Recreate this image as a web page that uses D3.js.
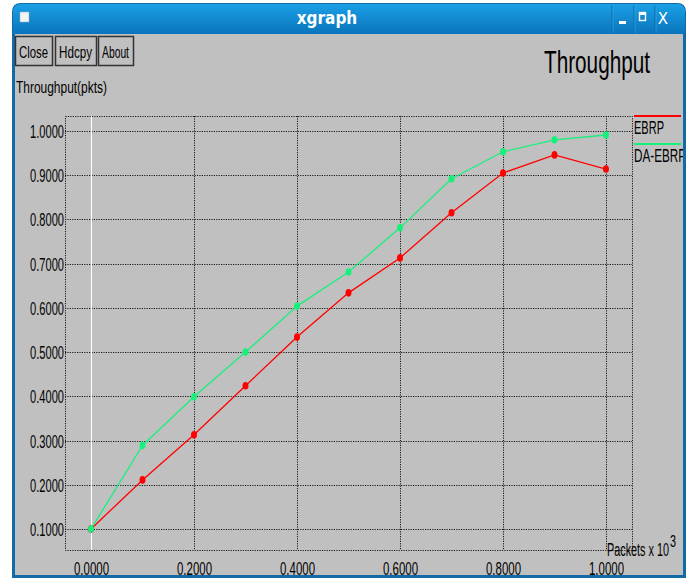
<!DOCTYPE html>
<html>
<head>
<meta charset="utf-8">
<script src="https://cdn.jsdelivr.net/npm/d3@7"></script>
<style>
  html, body { margin: 0; padding: 0; background: #ffffff; }
  svg { display: block; }
  text { font-family: "Liberation Sans", Arial, sans-serif; }
</style>
</head>
<body>
<svg id="chart" width="691" height="579"></svg>
<script>
// ---- data ----
const xValues = [0.0, 0.1, 0.2, 0.3, 0.4, 0.5, 0.6, 0.7, 0.8, 0.9, 1.0];
const ebrp    = [0.100, 0.211, 0.313, 0.424, 0.534, 0.634, 0.713, 0.815, 0.905, 0.946, 0.914];
const daEbrp  = [0.100, 0.289, 0.399, 0.500, 0.604, 0.681, 0.781, 0.892, 0.953, 0.980, 0.991];
const seriesNames = ["EBRP", "DA-EBRP"];
const xTicks = [0.0, 0.2, 0.4, 0.6, 0.8, 1.0];
const yTicks = [0.1, 0.2, 0.3, 0.4, 0.5, 0.6, 0.7, 0.8, 0.9, 1.0];

const svg = d3.select("#chart");
const colors = ["#ff0000", "#18f07c"];

// ---- window chrome ----
const defs = svg.append("defs");
const grad = defs.append("linearGradient").attr("id", "tb").attr("x1", 0).attr("y1", 0).attr("x2", 0).attr("y2", 1);
grad.append("stop").attr("offset", "0%").attr("stop-color", "#1aa0e6");
grad.append("stop").attr("offset", "100%").attr("stop-color", "#0a74bc");

svg.append("path")
  .attr("d", "M12,12 Q12,3 21,3 L677,3 Q686,3 686,12 L686,578 L12,578 Z")
  .attr("fill", "#146aa6");
svg.append("path")
  .attr("d", "M13,12 Q13,4 21,4 L677,4 Q685,4 685,12 L685,34 L13,34 Z")
  .attr("fill", "url(#tb)");
svg.append("rect").attr("x", 15).attr("y", 34).attr("width", 668).attr("height", 541).attr("fill", "#c0c0c0");

// title bar contents
svg.append("rect").attr("x", 20).attr("y", 12).attr("width", 9).attr("height", 10)
  .attr("fill", "#f4f4f4").attr("stroke", "#9ab").attr("stroke-width", 0.5);
svg.append("text").attr("x", 327).attr("y", 24).attr("text-anchor", "middle")
  .attr("fill", "#ffffff").attr("font-weight", "bold").attr("font-size", 17)
  .style("font-family", "'DejaVu Sans Condensed', 'Liberation Sans', sans-serif")
  .text("xgraph");
[612, 634, 655].forEach(bx => {
  svg.append("line").attr("x1", bx).attr("x2", bx).attr("y1", 5).attr("y2", 33)
    .attr("stroke", "#0b6aa8").attr("stroke-width", 1);
  svg.append("line").attr("x1", bx + 1).attr("x2", bx + 1).attr("y1", 5).attr("y2", 33)
    .attr("stroke", "#38aee8").attr("stroke-width", 0.6);
});
svg.append("rect").attr("x", 619).attr("y", 21).attr("width", 7).attr("height", 3).attr("fill", "#fff");
svg.append("rect").attr("x", 639.5).attr("y", 12.5).attr("width", 6).attr("height", 8)
  .attr("fill", "none").attr("stroke", "#fff").attr("stroke-width", 1.4);
svg.append("rect").attr("x", 639.5).attr("y", 12.5).attr("width", 6).attr("height", 2.5).attr("fill", "#fff");
svg.append("text").attr("x", 663).attr("y", 24).attr("text-anchor", "middle")
  .attr("fill", "#fff").attr("font-size", 15)
  .style("font-family", "'DejaVu Sans', sans-serif").text("X");

// xgraph buttons
const buttons = [["Close", 15, 37], ["Hdcpy", 55, 41], ["About", 98, 35]];
buttons.forEach(([label, bx, bw]) => {
  svg.append("rect").attr("x", bx + 0.5).attr("y", 36.5).attr("width", bw).attr("height", 29)
    .attr("fill", "none").attr("stroke", "#333").attr("stroke-width", 1.5);
  svg.append("text").attr("x", bx + 4).attr("y", 57.5)
    .attr("font-size", 17).attr("fill", "#000")
    .attr("textLength", bw - 8).attr("lengthAdjust", "spacingAndGlyphs")
    .text(label);
});

// title and axis label
svg.append("text").attr("x", 544).attr("y", 73).attr("font-size", 32).attr("fill", "#000")
  .attr("textLength", 106).attr("lengthAdjust", "spacingAndGlyphs").text("Throughput");
svg.append("text").attr("x", 16).attr("y", 93).attr("font-size", 17).attr("fill", "#000")
  .attr("textLength", 91).attr("lengthAdjust", "spacingAndGlyphs").text("Throughput(pkts)");

// ---- plot ----
const plot = { left: 65, right: 632, top: 116, bottom: 550 };
const x = d3.scaleLinear().domain([0, 1]).range([91, 606]);
const y = d3.scaleLinear().domain([0.1, 1.0]).range([529, 131]);
const fmt = d3.format(".4f");
const dotted = "1.2,1.2";
const gridColor = "#1a1a1a";

svg.append("rect").attr("x", plot.left + 0.5).attr("y", plot.top + 0.5)
  .attr("width", plot.right - plot.left).attr("height", plot.bottom - plot.top)
  .attr("fill", "none").attr("stroke", gridColor).attr("stroke-width", 1)
  .attr("stroke-dasharray", dotted);

svg.append("g").selectAll("line").data(yTicks).join("line")
  .attr("x1", plot.left).attr("x2", plot.right)
  .attr("y1", d => Math.round(y(d)) + 0.5).attr("y2", d => Math.round(y(d)) + 0.5)
  .attr("stroke", gridColor).attr("stroke-width", 1).attr("stroke-dasharray", dotted);

svg.append("g").selectAll("line").data(xTicks).join("line")
  .attr("x1", d => Math.round(x(d)) + 0.5).attr("x2", d => Math.round(x(d)) + 0.5)
  .attr("y1", plot.top).attr("y2", plot.bottom)
  .attr("stroke", d => d === 0 ? "#ffffff" : gridColor)
  .attr("stroke-width", 1)
  .attr("stroke-dasharray", d => d === 0 ? null : dotted);

// y tick labels
svg.append("g").selectAll("text").data(yTicks).join("text")
  .attr("x", 30).attr("y", d => y(d) + 7)
  .attr("font-size", 19).attr("fill", "#000")
  .attr("textLength", 34).attr("lengthAdjust", "spacingAndGlyphs")
  .text(d => fmt(d));

// x tick labels
svg.append("g").selectAll("text").data(xTicks).join("text")
  .attr("x", d => x(d) - 17).attr("y", 575)
  .attr("font-size", 19).attr("fill", "#000")
  .attr("textLength", 35).attr("lengthAdjust", "spacingAndGlyphs")
  .text(d => fmt(d));

// x axis label
svg.append("text").attr("x", 607).attr("y", 556).attr("font-size", 18).attr("fill", "#000")
  .attr("textLength", 62).attr("lengthAdjust", "spacingAndGlyphs").text("Packets x 10");
svg.append("text").attr("x", 670).attr("y", 547).attr("font-size", 16).attr("fill", "#000")
  .attr("textLength", 6).attr("lengthAdjust", "spacingAndGlyphs").text("3");

// series
const series = [ebrp, daEbrp];
const line = d3.line().x(d => x(d[0])).y(d => y(d[1]));
series.forEach((vals, i) => {
  const pts = xValues.map((xv, j) => [xv, vals[j]]);
  svg.append("path").datum(pts).attr("d", line)
    .attr("fill", "none").attr("stroke", colors[i]).attr("stroke-width", 1.3);
  svg.append("g").selectAll("ellipse").data(pts).join("ellipse")
    .attr("cx", d => x(d[0])).attr("cy", d => y(d[1]))
    .attr("rx", 3).attr("ry", 3.8).attr("fill", colors[i]);
});

// legend (clipped by window frame)
defs.append("clipPath").attr("id", "legclip").append("rect")
  .attr("x", 632).attr("y", 100).attr("width", 51).attr("height", 80);
const leg = svg.append("g").attr("clip-path", "url(#legclip)");
const legY = [116, 144];
seriesNames.forEach((name, i) => {
  leg.append("line").attr("x1", 634).attr("x2", 681).attr("y1", legY[i]).attr("y2", legY[i])
    .attr("stroke", colors[i]).attr("stroke-width", 2);
  leg.append("text").attr("x", 634).attr("y", legY[i] + 17.5).attr("font-size", 19).attr("fill", "#000")
    .attr("textLength", name.length === 4 ? 30 : 52).attr("lengthAdjust", "spacingAndGlyphs")
    .text(name);
});
</script>
</body>
</html>
